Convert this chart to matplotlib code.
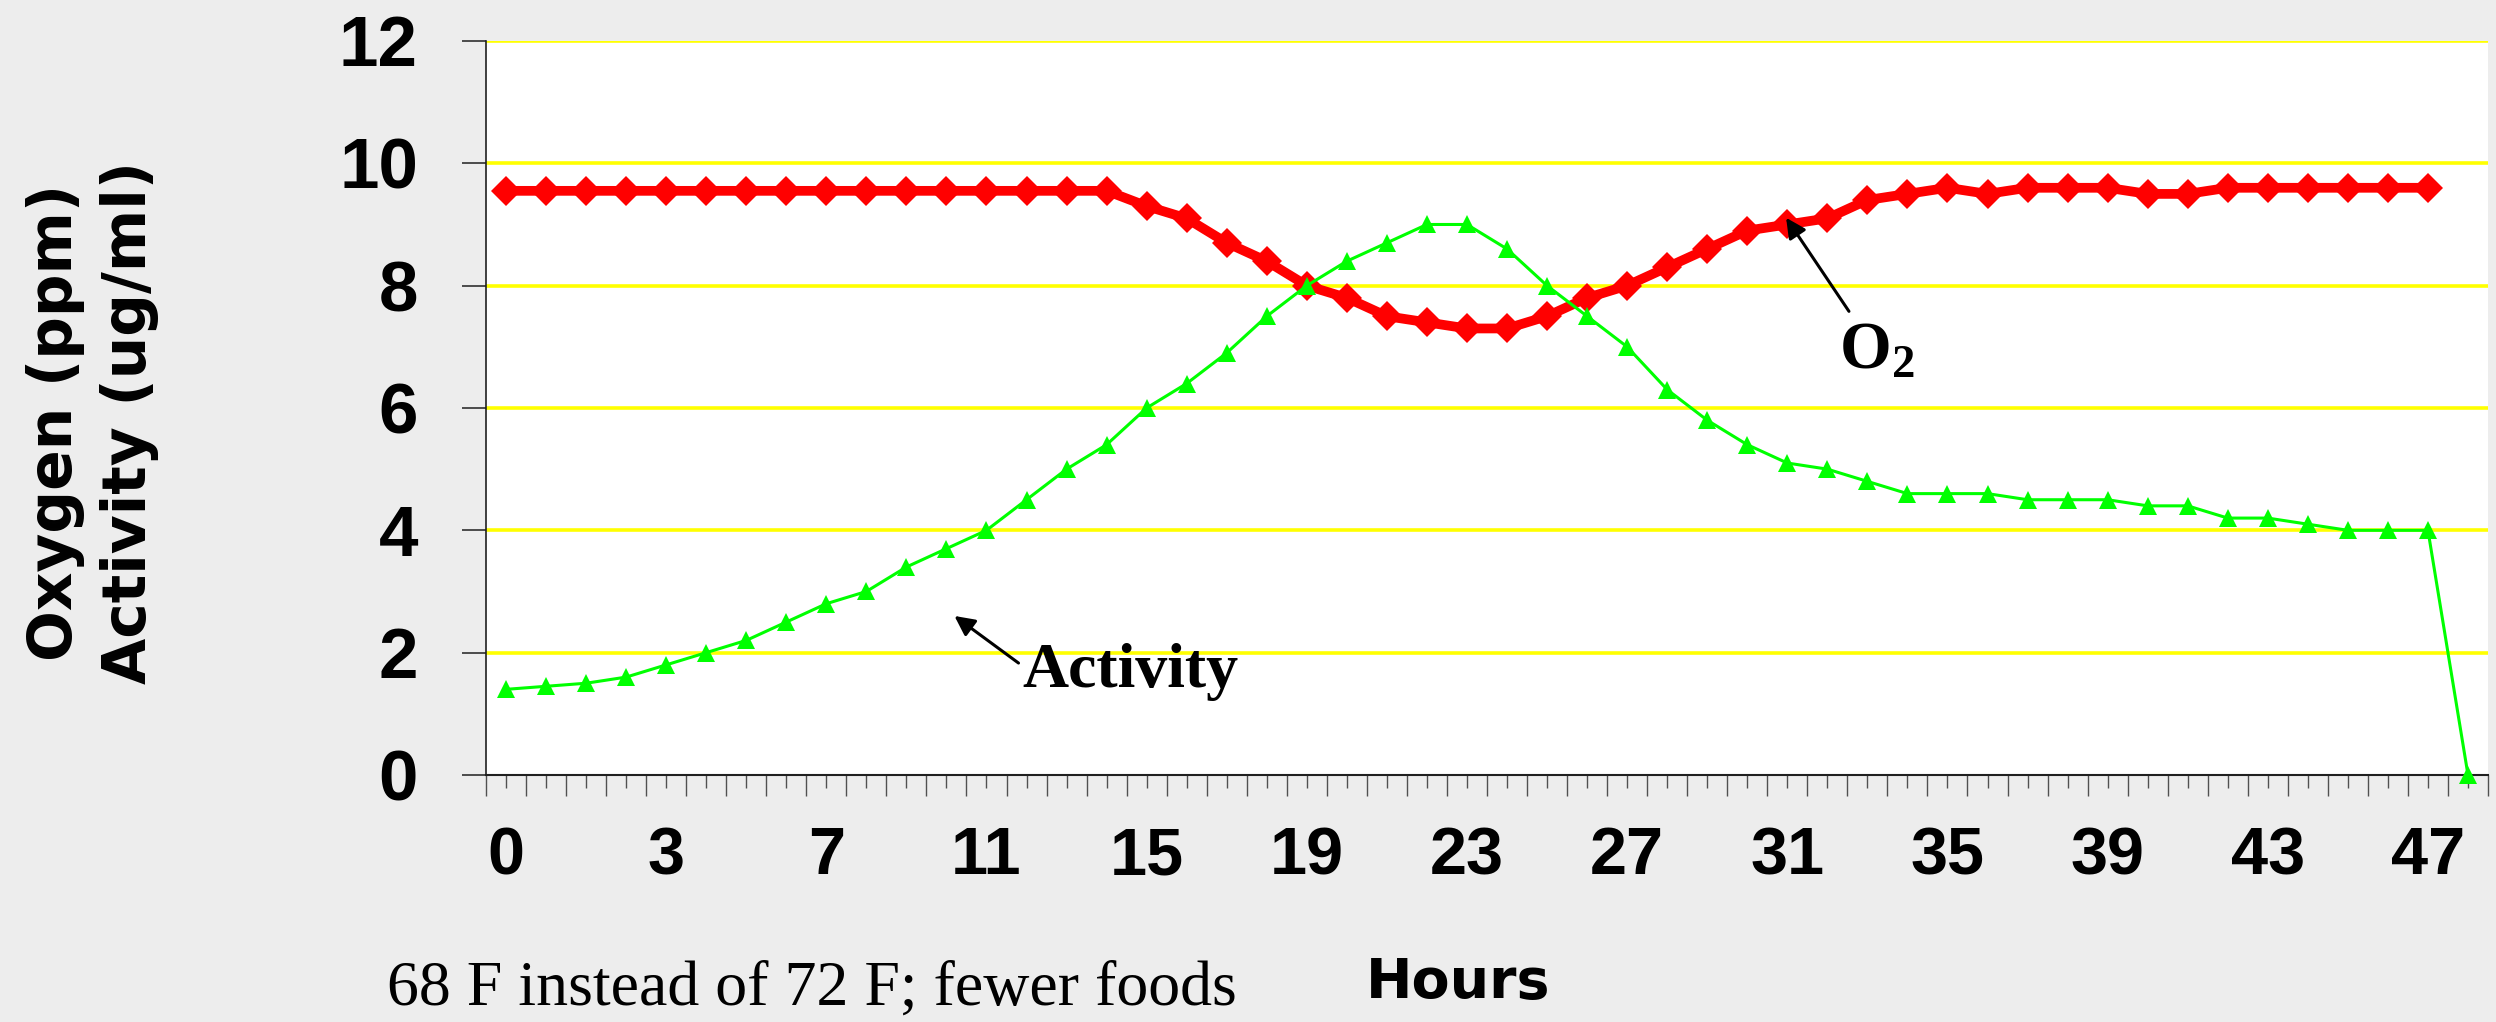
import matplotlib
matplotlib.use("Agg")
import matplotlib.pyplot as plt

# Hours on the category axis: only every 4th category is labelled
x_labels = ["0", "3", "7", "11", "15", "19", "23", "27", "31", "35", "39", "43", "47"]
n_categories = 50

oxygen = [9.55, 9.55, 9.55, 9.55, 9.55, 9.55, 9.55, 9.55, 9.55, 9.55,
          9.55, 9.55, 9.55, 9.55, 9.55, 9.55, 9.3, 9.1, 8.7, 8.4,
          8.0, 7.8, 7.5, 7.4, 7.3, 7.3, 7.5, 7.8, 8.0, 8.3,
          8.6, 8.9, 9.0, 9.1, 9.4, 9.5, 9.6, 9.5, 9.6, 9.6,
          9.6, 9.5, 9.5, 9.6, 9.6, 9.6, 9.6, 9.6, 9.6]

activity = [1.4, 1.45, 1.5, 1.6, 1.8, 2.0, 2.2, 2.5, 2.8, 3.0,
            3.4, 3.7, 4.0, 4.5, 5.0, 5.4, 6.0, 6.4, 6.9, 7.5,
            8.0, 8.4, 8.7, 9.0, 9.0, 8.6, 8.0, 7.5, 7.0, 6.3,
            5.8, 5.4, 5.1, 5.0, 4.8, 4.6, 4.6, 4.6, 4.5, 4.5,
            4.5, 4.4, 4.4, 4.2, 4.2, 4.1, 4.0, 4.0, 4.0, 0.0]

bg = "#ededed"
plt.rcParams["mathtext.fontset"] = "custom"
plt.rcParams["mathtext.bf"] = "Liberation Serif:bold"
plt.rcParams["mathtext.rm"] = "Liberation Serif:bold"

fig = plt.figure(figsize=(24.96, 10.22), dpi=100, facecolor=bg)
ax = fig.add_axes([0.1947, 0.2417, 0.8021, 0.7182])
ax.set_facecolor("white")

ax.plot(range(len(oxygen)), oxygen, color="#ff0000", lw=7, marker="D",
        ms=15, mew=0, zorder=3)
ax.plot(range(len(activity)), activity, color="#00ff00", lw=2.2, marker="^",
        ms=13, mew=0, zorder=4, clip_on=False)

ax.set_xlim(-0.5, n_categories - 0.5)
ax.set_ylim(0, 12)

# y axis
ax.set_yticks(range(0, 13, 2))
ax.tick_params(axis="y", length=17, width=1.2, color="#303030", pad=32)
for lab in ax.get_yticklabels():
    lab.set_fontfamily("Liberation Sans")
    lab.set_fontweight("bold")
    lab.set_fontsize(51)
for v in range(2, 13, 2):
    ax.axhline(v, color="#ffff00", lw=2.6, zorder=1)

# x axis: short ticks at categories, long ticks at boundaries
ax.set_xticks(range(n_categories))
ticklabels = [""] * n_categories
for i, lab in enumerate(x_labels):
    ticklabels[i * 4] = lab
ax.set_xticklabels(ticklabels, fontfamily="Liberation Sans", fontweight="bold",
                   fontsize=48)
ax.set_xticks([i - 0.5 for i in range(n_categories + 1)], minor=True)
ax.tick_params(axis="x", which="major", length=9, width=1, color="#505050", pad=28)
ax.tick_params(axis="x", which="minor", length=15, width=1, color="#505050")

for s in ("top", "right"):
    ax.spines[s].set_visible(False)
ax.spines["left"].set_color("#202020")
ax.spines["left"].set_linewidth(1.2)
ax.spines["bottom"].set_color("#202020")
ax.spines["bottom"].set_linewidth(1.5)

# annotations
ax.annotate("", xy=(11.2, 2.6), xytext=(12.8, 1.83),
            arrowprops=dict(arrowstyle="-|>", color="black", lw=2.2,
                            mutation_scale=30, shrinkA=0, shrinkB=0))
ax.text(12.9, 1.44, "Activity", fontfamily="Liberation Serif", fontweight="bold",
        fontsize=46, ha="left", va="baseline")
ax.annotate("", xy=(31.97, 9.11), xytext=(33.54, 7.58),
            arrowprops=dict(arrowstyle="-|>", color="black", lw=2.2,
                            mutation_scale=30, shrinkA=0, shrinkB=0), zorder=6)
ax.text(33.29, 6.64, r"$\mathbf{O_2}$", fontsize=48, ha="left", va="baseline")

fig.text(0.0372, 0.587, "Oxygen (ppm)\nActivity (ug/ml)", rotation=90,
         fontfamily="DejaVu Sans", fontweight="heavy", fontsize=43,
         ha="center", va="center", multialignment="center", linespacing=1.32)
fig.text(1366 / 2496, 1 - 998 / 1022, "Hours", fontfamily="DejaVu Sans",
         fontweight="bold", fontsize=40, ha="left", va="baseline")
fig.text(387 / 2496, 1 - 1005 / 1022, "68 F instead of 72 F; fewer foods",
         fontfamily="Liberation Serif", fontsize=46, ha="left", va="baseline")

fig.savefig("out.png", dpi=100, facecolor=bg)
